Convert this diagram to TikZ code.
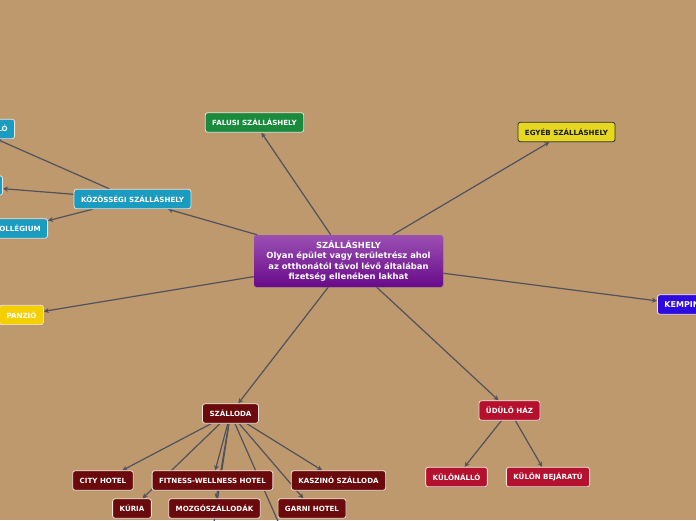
\documentclass[tikz,border=0pt]{standalone}
\usepackage{fontspec}
\setmainfont{DejaVu Sans}
\usetikzlibrary{arrows.meta,shadows}
\pgfdeclarelayer{bg}
\pgfdeclarelayer{edges}
\pgfsetlayers{bg,edges,main}
\definecolor{bgtan}{RGB}{190,153,110}
\definecolor{linec}{RGB}{80,82,92}
\definecolor{cgreen}{RGB}{26,138,60}
\definecolor{cteal}{RGB}{26,156,192}
\definecolor{cyel}{RGB}{230,216,32}
\definecolor{cpanz}{RGB}{245,207,0}
\definecolor{cblue}{RGB}{45,11,224}
\definecolor{cdred}{RGB}{107,10,12}
\definecolor{ccrim}{RGB}{181,16,46}
\definecolor{ptop}{RGB}{155,80,178}
\definecolor{pbot}{RGB}{104,10,138}
\definecolor{nborder}{RGB}{238,226,218}
\tikzset{
  x=1pt,y=-1pt,
  topic/.style={draw=nborder, line width=0.8pt, rounded corners=2.5pt,
    text=white, font=\fontsize{7.1}{8}\selectfont\bfseries,
    inner xsep=7pt, inner ysep=0pt, minimum height=19.5pt,
    drop shadow={shadow xshift=0.8pt, shadow yshift=-0.8pt, opacity=0.35}},
  conn/.style={draw=linec, line width=1.2pt, -{Stealth[length=5pt,width=5pt]}},
  plainconn/.style={draw=linec, line width=1.2pt}
}
\begin{document}
\begin{tikzpicture}
\begin{pgfonlayer}{bg}
\fill[bgtan] (0,0) rectangle (696,520);
\end{pgfonlayer}
\useasboundingbox (0,0) rectangle (696,520);

% central
\node[draw=none, rounded corners=2.5pt, top color=ptop, bottom color=pbot,
  minimum width=189pt, minimum height=52pt, text=white, align=center,
  font=\fontsize{8.4}{10.4}\selectfont\bfseries, inner sep=0pt,
  drop shadow={shadow xshift=0.8pt, shadow yshift=-0.8pt, opacity=0.35}]
  (root) at (348.5,261) {SZÁLLÁSHELY\\Olyan épület vagy területrész ahol\\az otthonától távol lévő általában\\fizetség ellenében lakhat};

\node[topic, fill=cgreen] (falusi) at (254.5,122.5) {FALUSI SZÁLLÁSHELY};
\node[topic, fill=cyel, draw=black!80, text=black!90] (egyeb) at (566.5,132) {EGYÉB SZÁLLÁSHELY};
\node[topic, fill=cteal] (kozos) at (132.5,199) {KÖZÖSSÉGI SZÁLLÁSHELY};
\node[topic, fill=cteal, anchor=east] (ifju) at (15,129) {IFJÚSÁGI SZÁLLÓ};
\node[topic, fill=cteal, anchor=east] (turista) at (3,185.5) {TURISTASZÁLLÓ};
\node[topic, fill=cteal, anchor=east] (koll) at (48,228.5) {KOLLÉGIUM};
\node[topic, fill=cpanz] (panzio) at (21.5,315) {PANZIÓ};
\node[topic, fill=cblue, anchor=west, font=\fontsize{8}{9}\selectfont\bfseries] (kemping) at (657,304.5) {KEMPING};

\node[topic, fill=cdred] (szalloda) at (230.5,413.5) {SZÁLLODA};
\node[topic, fill=cdred] (city) at (103,480.5) {CITY HOTEL};
\node[topic, fill=cdred] (fitness) at (212.5,480.5) {FITNESS-WELLNESS HOTEL};
\node[topic, fill=cdred] (kaszino) at (338.5,480.5) {KASZINÓ SZÁLLODA};
\node[topic, fill=cdred] (kuria) at (132,508.5) {KÚRIA};
\node[topic, fill=cdred] (mozgo) at (214.5,508.5) {MOZGÓSZÁLLODÁK};
\node[topic, fill=cdred] (garni) at (312,508.5) {GARNI HOTEL};
\coordinate (offa) at (206,575);
\coordinate (offb) at (295,560);

\node[topic, fill=ccrim] (udulo) at (509.5,410.5) {ÜDÜLŐ HÁZ};
\node[topic, fill=ccrim] (kulon) at (456.5,477) {KÜLÖNÁLLÓ};
\node[topic, fill=ccrim] (kulonb) at (548,477) {KÜLÖN BEJÁRATÚ};

\begin{pgfonlayer}{edges}
\draw[conn] (root) -- (falusi);
\draw[conn] (root) -- (egyeb);
\draw[conn] (root) -- (kozos);
\draw[conn] (root) -- (panzio);
\draw[conn] (root) -- (kemping);
\draw[conn] (root) -- (szalloda);
\draw[conn] (root) -- (udulo);
\draw[conn] (kozos) -- (ifju);
\draw[conn] (kozos) -- (turista);
\draw[conn] (kozos) -- (koll);
\draw[conn] (szalloda) -- (city);
\draw[conn] (szalloda) -- (fitness);
\draw[conn] (szalloda) -- (kaszino);
\draw[conn] (szalloda) -- (kuria);
\draw[conn] (szalloda) -- (mozgo);
\draw[conn] (szalloda) -- (garni);
\draw[plainconn] (szalloda) -- (offa);
\draw[plainconn] (szalloda) -- (offb);
\draw[conn] (udulo) -- (kulon);
\draw[conn] (udulo) -- (kulonb);
\end{pgfonlayer}
\end{tikzpicture}
\end{document}
